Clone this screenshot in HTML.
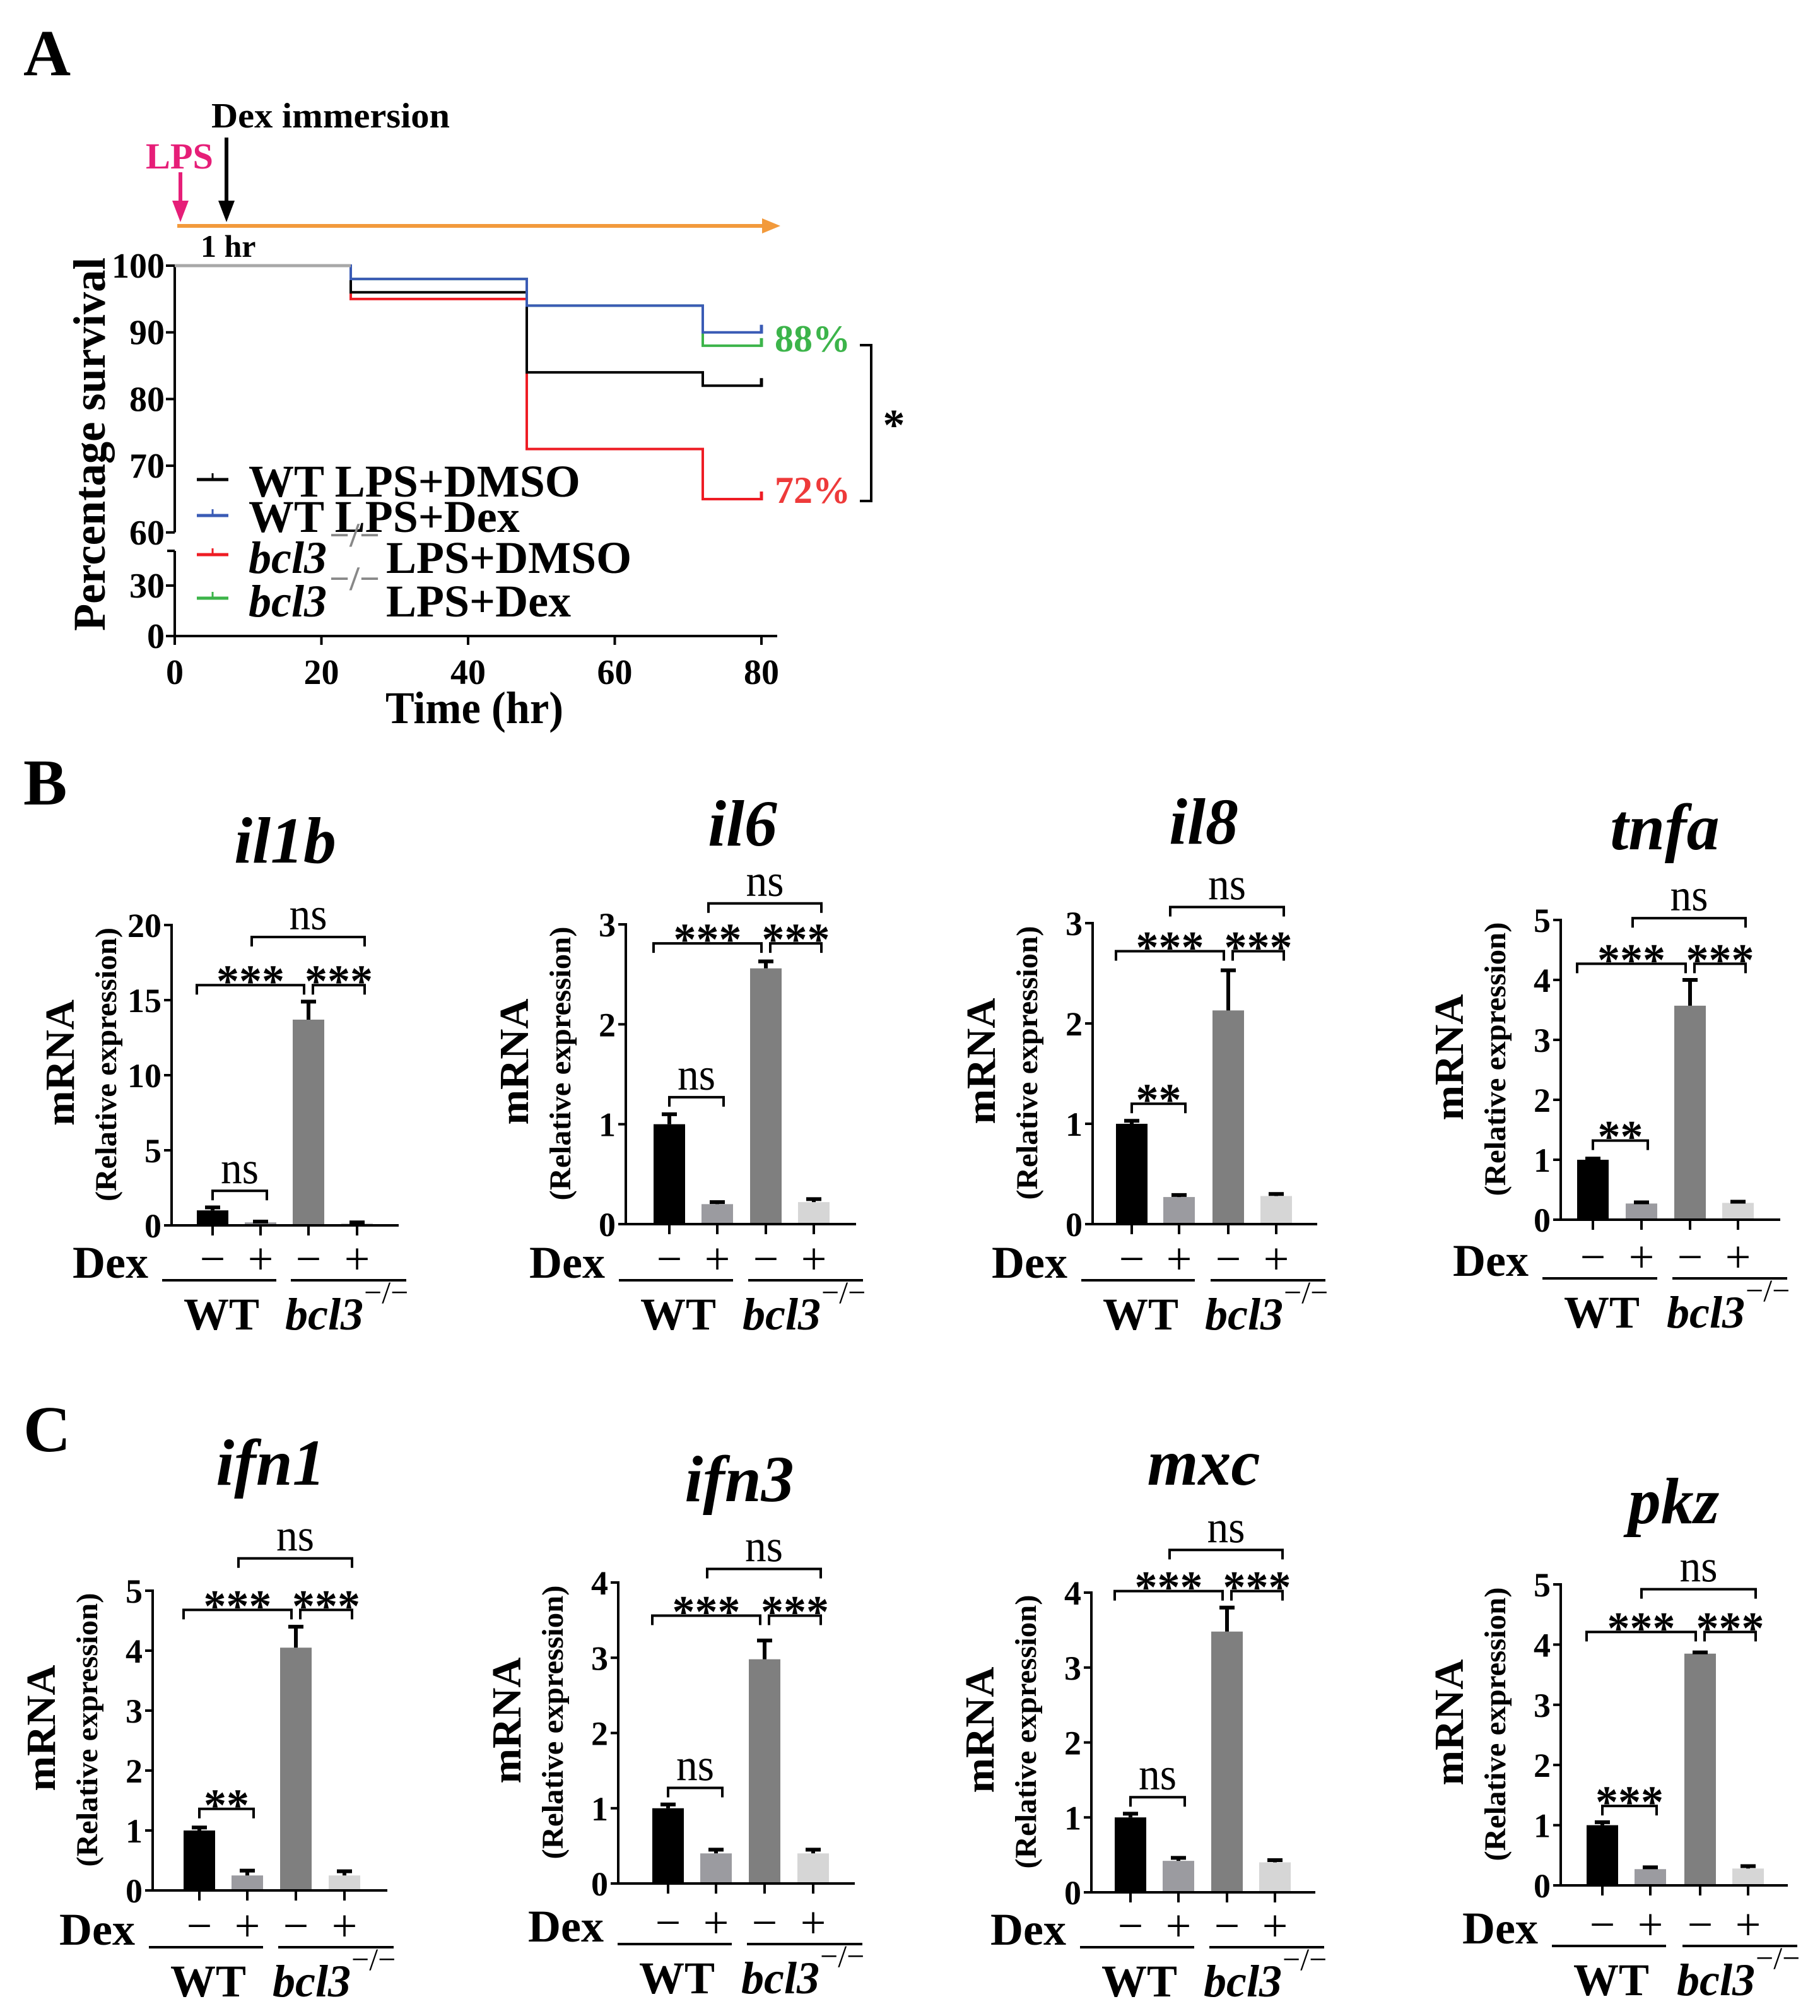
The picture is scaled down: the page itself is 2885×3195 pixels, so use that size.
<!DOCTYPE html>
<html><head><meta charset="utf-8">
<style>
html,body{margin:0;padding:0;background:#fff;}
svg{display:block;}
text{font-family:"Liberation Serif",serif;}
</style></head>
<body>
<svg id="fig" xmlns="http://www.w3.org/2000/svg" width="2885" height="3195" viewBox="0 0 2885 3195">
<rect x="0" y="0" width="2885" height="3195" fill="#fff"/>
<text x="37" y="119" font-size="104" font-weight="bold">A</text>
<text x="37" y="1275" font-size="104" font-weight="bold">B</text>
<text x="37" y="2300" font-size="104" font-weight="bold">C</text>
<g id="panelA"></g>
<g id="bars"></g>
</svg>
<script>
// ---------- Panel A data ----------
const survTimes = [0, 24, 48, 72, 80];
const survWTDMSO = [100, 96, 84, 82, 82];
const survWTDex = [100, 98, 94, 90, 90];
const survKODMSO = [100, 95, 72.5, 65, 65];
const survKODex = [100, 98, 94, 88, 88];
const survXTicks = [0, 20, 40, 60, 80];
const survYTicksUpper = [60, 70, 80, 90, 100];
const survYTicksLower = [0, 30];

// ---------- Bar panel data ----------
const geneNames = ["il1b","il6","il8","tnfa","ifn1","ifn3","mxc","pkz"];
const geneMax = [20, 3, 3, 5, 5, 4, 4, 5];
const geneStep = [5, 1, 1, 1, 1, 1, 1, 1];
const meanIl1b = [1.0, 0.2, 13.7, 0.15];
const errIl1b = [1.2, 0.25, 14.9, 0.2];
const meanIl6 = [1.0, 0.2, 2.56, 0.22];
const errIl6 = [1.1, 0.22, 2.63, 0.25];
const meanIl8 = [1.0, 0.27, 2.13, 0.28];
const errIl8 = [1.03, 0.29, 2.53, 0.3];
const meanTnfa = [1.0, 0.27, 3.57, 0.28];
const errTnfa = [1.02, 0.29, 4.0, 0.3];
const meanIfn1 = [1.0, 0.25, 4.05, 0.25];
const errIfn1 = [1.05, 0.33, 4.4, 0.32];
const meanIfn3 = [1.0, 0.4, 2.98, 0.4];
const errIfn3 = [1.05, 0.45, 3.23, 0.45];
const meanMxc = [1.0, 0.42, 3.48, 0.4];
const errMxc = [1.05, 0.46, 3.8, 0.43];
const meanPkz = [1.0, 0.27, 3.85, 0.28];
const errPkz = [1.05, 0.3, 3.87, 0.32];
const sigPair12 = ["ns","ns","**","**","**","ns","ns","***"];
const sigPair12Level = [2.3, 1.27, 1.2, 1.32, 1.36, 1.27, 1.27, 1.32];
const sigMidLevel = [16.0, 2.81, 2.72, 4.27, 4.68, 3.56, 4.02, 4.21];
const sigTopLevel = [19.2, 3.21, 3.16, 5.03, 5.54, 4.18, 4.57, 4.92];

const NS = "http://www.w3.org/2000/svg";
function mk(tag, attrs, parent, txt){
  const e = document.createElementNS(NS, tag);
  for (const k in attrs) e.setAttribute(k, attrs[k]);
  if (txt !== undefined) e.textContent = txt;
  parent.appendChild(e);
  return e;
}

// ---------- Panel A ----------
(function(){
  const g = document.getElementById('panelA');
  const X0 = 277, X80 = 1207;
  const xs = t => X0 + (t/80)*(X80-X0);
  const yU = v => 421 + (100 - v) * 10.57;
  const yL = v => 1008 - v * (1008-928)/30;
  const yv = v => v >= 60 ? yU(v) : yL(v);

  let e = mk('line',{x1:281,y1:358,x2:1215,y2:358,stroke:'#f29a3c','stroke-width':6},g);
  
  
  e = mk('polygon',{points:'1237,358 1208,346 1208,370',fill:'#f29a3c'},g);
  
  
  e = mk('line',{x1:286,y1:273,x2:286,y2:330,stroke:'#e61e78','stroke-width':6},g);
  
  
  mk('polygon',{points:'286,352 273,318 299,318',fill:'#e61e78'},g);
  e = mk('text',{x:231,y:267,'font-size':58,'font-weight':'bold',fill:'#e61e78',textLength:107,lengthAdjust:'spacingAndGlyphs'},g,'LPS');
  
  
  e = mk('line',{x1:359,y1:218,x2:359,y2:330,stroke:'#000','stroke-width':6},g);
  
  
  mk('polygon',{points:'359,352 346,318 372,318',fill:'#000'},g);
  e = mk('text',{x:335,y:202,'font-size':56,'font-weight':'bold',textLength:378,lengthAdjust:'spacingAndGlyphs'},g,'Dex immersion');
  
  
  e = mk('text',{x:318,y:407,'font-size':50,'font-weight':'bold'},g,'1 hr');
  
  

  e = mk('line',{x1:X0,y1:419,x2:X0,y2:yU(60),stroke:'#000','stroke-width':4},g);
  
  
  e = mk('line',{x1:X0,y1:873,x2:X0,y2:1010,stroke:'#000','stroke-width':4},g);
  
  
  mk('line',{x1:265,y1:873,x2:X0,y2:873,stroke:'#000','stroke-width':4},g);
  e = mk('line',{x1:X0-2,y1:1008,x2:1232,y2:1008,stroke:'#000','stroke-width':4},g);
  
  
  survYTicksUpper.concat(survYTicksLower).forEach(v=>{
    const y = yv(v);
    mk('line',{x1:X0-14,y1:y,x2:X0,y2:y,stroke:'#000','stroke-width':4},g);
    const t = mk('text',{x:X0-16,y:y+19,'font-size':56,'font-weight':'bold','text-anchor':'end'},g,String(v));
    
    
  });
  survXTicks.forEach(v=>{
    const x = xs(v);
    mk('line',{x1:x,y1:1008,x2:x,y2:1022,stroke:'#000','stroke-width':4},g);
    const t = mk('text',{x:x,y:1084,'font-size':56,'font-weight':'bold','text-anchor':'middle'},g,String(v));
    
    
  });
  e = mk('text',{x:752,y:1146,'font-size':72,'font-weight':'bold','text-anchor':'middle',textLength:282,lengthAdjust:'spacingAndGlyphs'},g,'Time (hr)');
  
  
  e = mk('text',{x:0,y:0,'font-size':72,'font-weight':'bold','text-anchor':'middle',transform:'translate(166,704) rotate(-90)',textLength:592,lengthAdjust:'spacingAndGlyphs'},g,'Percentage survival');
  
  

  function stepPath(vals){
    let d = 'M'+xs(survTimes[0])+','+yv(vals[0]);
    for (let i=1;i<survTimes.length;i++){
      d += ' H'+xs(survTimes[i]);
      if (i < survTimes.length-1) d += ' V'+yv(vals[i]);
    }
    return d;
  }
  const series = [
    [survKODex,'#3cb44a','curve-bcl3-lps-dex'],
    [survKODMSO,'#ee1c24','curve-bcl3-lps-dmso'],
    [survWTDMSO,'#000000','curve-wt-lps-dmso'],
    [survWTDex,'#3a5bb5','curve-wt-lps-dex']
  ];
  series.forEach(s=>{
    const p = mk('path',{d:stepPath(s[0]),fill:'none',stroke:s[1],'stroke-width':4},g);
    
    
    const last = s[0][s[0].length-1];
    mk('line',{x1:xs(80),y1:yv(last)+2,x2:xs(80),y2:yv(last)-12,stroke:s[1],'stroke-width':5},g);
  });
  e = mk('line',{x1:xs(0),y1:yv(100),x2:xs(24),y2:yv(100),stroke:'#a8a8a8','stroke-width':5},g);
  
  

  e = mk('text',{x:1228,y:557,'font-size':60,'font-weight':'bold',fill:'#3cb44a'},g,'88%');
  
  
  e = mk('text',{x:1228,y:797,'font-size':60,'font-weight':'bold',fill:'#ee3a3a'},g,'72%');
  
  
  e = mk('path',{d:'M1363,547 H1381 V794 H1363',fill:'none',stroke:'#000','stroke-width':4},g);
  
  
  e = mk('text',{x:1417,y:697,'font-size':70,'font-weight':'bold','text-anchor':'middle','font-family':'Liberation Sans, sans-serif'},g,'*');
  
  

  const leg = [
    ['#000','WT LPS+DMSO',760,787,false],
    ['#3a5bb5','WT LPS+Dex',817,843,false],
    ['#ee1c24','LPS+DMSO',879,908,true],
    ['#3cb44a','LPS+Dex',948,977,true]
  ];
  leg.forEach((l,i)=>{
    const lg = mk('g',{},g);
    
    
    mk('line',{x1:312,y1:l[2],x2:362,y2:l[2],stroke:l[0],'stroke-width':5},lg);
    mk('line',{x1:337,y1:l[2],x2:337,y2:l[2]-10,stroke:l[0],'stroke-width':3},lg);
    if (!l[4]){
      mk('text',{x:394,y:l[3],'font-size':72,'font-weight':'bold'},lg,l[1]);
    } else {
      mk('text',{x:394,y:l[3],'font-size':72,'font-weight':'bold','font-style':'italic'},lg,'bcl3');
      mk('text',{x:522,y:l[3]-42,'font-size':54,'font-weight':'bold','fill':'#888',textLength:80,lengthAdjust:'spacingAndGlyphs'},lg,'−/−');
      mk('text',{x:612,y:l[3],'font-size':72,'font-weight':'bold'},lg,l[1]);
    }
  });
})();

// ---------- Bar panels ----------
(function(){
  const root = document.getElementById('bars');
  const means = [meanIl1b,meanIl6,meanIl8,meanTnfa,meanIfn1,meanIfn3,meanMxc,meanPkz];
  const errs = [errIl1b,errIl6,errIl8,errTnfa,errIfn1,errIfn3,errMxc,errPkz];
  const layout = [
    {ax:272,y0:1942,yt:1466,off:[65,141,217,294],end:632,tx:452,ty:1367,dy:2025},
    {ax:992,y0:1940,yt:1465,off:[69,145,222,298],end:1357,tx:1177,ty:1340,dy:2025},
    {ax:1732,y0:1940,yt:1463,off:[62,137,215,291],end:2088,tx:1908,ty:1337,dy:2025},
    {ax:2474,y0:1933,yt:1458,off:[51,128,205,281],end:2822,tx:2639,ty:1346,dy:2022},
    {ax:242,y0:2996,yt:2521,off:[74,150,227,304],end:614,tx:429,ty:2353,dy:3082},
    {ax:980,y0:2985,yt:2508,off:[79,155,232,309],end:1355,tx:1172,ty:2379,dy:3077},
    {ax:1730,y0:2999,yt:2524,off:[62,138,215,291],end:2085,tx:1908,ty:2353,dy:3082},
    {ax:2474,y0:2988,yt:2511,off:[66,142,221,297],end:2834,tx:2653,ty:2414,dy:3080}
  ];
  const fills = ['#000000','#9b9ba0','#7f7f7f','#d6d6d6'];
  const BW = 50;
  geneNames.forEach((name,p)=>{
    const L = layout[p];
    const g = mk('g',{},root);
    
    
    const yS = v => L.y0 - (v/geneMax[p])*(L.y0-L.yt);
    const bx = L.off.map(o=>L.ax+o);
    let e = mk('text',{x:L.tx,y:L.ty,'font-size':104,'font-weight':'bold','font-style':'italic','text-anchor':'middle'},g,name);
    
    
    const mid = (L.y0+L.yt)/2 - 20;
    e = mk('text',{x:0,y:0,'font-size':66,'font-weight':'bold','text-anchor':'middle',transform:'translate('+(L.ax-155)+','+mid+') rotate(-90)',textLength:200,lengthAdjust:'spacingAndGlyphs'},g,'mRNA');
    
    
    e = mk('text',{x:0,y:0,'font-size':48,'font-weight':'bold','text-anchor':'middle',transform:'translate('+(L.ax-88)+','+(mid+3)+') rotate(-90)',textLength:434,lengthAdjust:'spacingAndGlyphs'},g,'(Relative expression)');
    
    
    means[p].forEach((v,i)=>{
      const r = mk('rect',{x:bx[i]-BW/2,y:yS(v),width:BW,height:L.y0-yS(v),fill:fills[i]},g);
      
      
      const ey = yS(errs[p][i]);
      const el = mk('path',{d:'M'+bx[i]+','+yS(v)+' V'+ey+' M'+(bx[i]-12)+','+ey+' H'+(bx[i]+12),stroke:'#000','stroke-width':6,fill:'none'},g);
      
      
    });
    e = mk('line',{x1:L.ax,y1:L.yt-2,x2:L.ax,y2:L.y0+2,stroke:'#000','stroke-width':4},g);
    
    
    e = mk('line',{x1:L.ax-2,y1:L.y0,x2:L.end,y2:L.y0,stroke:'#000','stroke-width':4},g);
    
    
    for (let v=0; v<=geneMax[p]+1e-9; v+=geneStep[p]){
      const y = yS(v);
      mk('line',{x1:L.ax-12,y1:y,x2:L.ax,y2:y,stroke:'#000','stroke-width':4},g);
      const t = mk('text',{x:L.ax-16,y:y+19,'font-size':54,'font-weight':'bold','text-anchor':'end'},g,String(v));
      
      
    }
    bx.forEach(x=>mk('line',{x1:x,y1:L.y0,x2:x,y2:L.y0+16,stroke:'#000','stroke-width':4},g));
    function bracket(x1,x2,lv,label){
      const y = yS(lv);
      const b = mk('path',{d:'M'+x1+','+(y+15)+' V'+y+' H'+x2+' V'+(y+15),fill:'none',stroke:'#000','stroke-width':4},g);
      
      
      let t;
      if (label === 'ns'){
        t = mk('text',{x:(x1+x2)/2,y:y-12,'font-size':72,'text-anchor':'middle',textLength:60,lengthAdjust:'spacingAndGlyphs'},g,'ns');
      } else {
        const w = label.length === 3 ? 108 : 72;
        t = mk('text',{x:(x1+x2)/2,y:y+18,'font-size':72,'font-weight':'bold','text-anchor':'middle','font-family':'Liberation Sans, sans-serif',textLength:w,lengthAdjust:'spacingAndGlyphs'},g,label);
      }
      
      
    }
    bracket(bx[0],bx[1]+10,sigPair12Level[p],sigPair12[p]);
    bracket(bx[0]-25,bx[2]-7,sigMidLevel[p],'***');
    bracket(bx[2]+7,bx[3]+12,sigMidLevel[p],'***');
    bracket(bx[1]-14,bx[3]+12,sigTopLevel[p],'ns');
    const dy = L.dy;
    e = mk('text',{x:bx[0]-102,y:dy,'font-size':72,'font-weight':'bold','text-anchor':'end'},g,'Dex');
    
    
    ['−','+','−','+'].forEach((s,i)=>{
      const t = mk('text',{x:bx[i],y:dy-6,'font-size':72,'text-anchor':'middle'},g,s);
      
      
    });
    e = mk('line',{x1:bx[0]-80,y1:dy+4,x2:bx[1]+25,y2:dy+4,stroke:'#000','stroke-width':4},g);
    
    
    e = mk('line',{x1:bx[2]-28,y1:dy+4,x2:bx[3]+78,y2:dy+4,stroke:'#000','stroke-width':4},g);
    
    
    e = mk('text',{x:bx[0]+14,y:dy+82,'font-size':72,'font-weight':'bold','text-anchor':'middle'},g,'WT');
    
    
    e = mk('text',{x:bx[2]-37,y:dy+82,'font-size':72,'font-weight':'bold','font-style':'italic'},g,'bcl3');
    
    
    e = mk('text',{x:bx[2]+88,y:dy+40,'font-size':50},g,'−/−');
    
    
  });
})();
</script>
</body></html>
